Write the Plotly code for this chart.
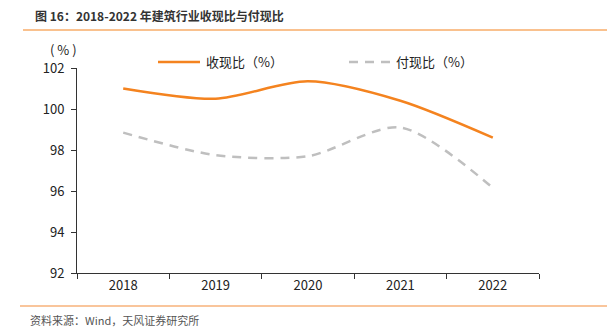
import plotly.graph_objects as go

years = ["2018", "2019", "2020", "2021", "2022"]
shouxian = [101.0, 100.5, 101.35, 100.4, 98.6]
fuxian = [98.85, 97.75, 97.7, 99.1, 96.15]
yticks = [92, 94, 96, 98, 100, 102]
names = ["收现比（%）", "付现比（%）"]

FONT = "Noto Sans CJK SC, Noto Sans, sans-serif"
ORANGE = "#F4831F"
GRAY = "#BFBFBF"
GDASH = "9px,7px"

PW, PH = 462, 205
def px(x):
    return (x - 77) / PW
def py(y):
    return (273 - y) / PH

fig = go.Figure()
fig.add_trace(go.Scatter(x=years, y=shouxian, mode="lines", name=names[0],
                         line=dict(color=ORANGE, width=2.5, shape="spline", smoothing=0.8)))
fig.add_trace(go.Scatter(x=years, y=fuxian, mode="lines", name=names[1],
                         line=dict(color=GRAY, width=2.5, shape="spline", smoothing=0.8, dash=GDASH)))

shapes = [
    dict(type="line", xref="paper", yref="paper", x0=px(23), x1=px(607),
         y0=py(30), y1=py(30), line=dict(color=ORANGE, width=1)),
    dict(type="line", xref="paper", yref="paper", x0=px(20), x1=px(607),
         y0=py(306), y1=py(306), line=dict(color="#F7B27A", width=1.5)),
    # legend keys
    dict(type="line", xref="paper", yref="paper", x0=px(158), x1=px(200),
         y0=py(62), y1=py(62), line=dict(color=ORANGE, width=2.5)),
    dict(type="line", xref="paper", yref="paper", x0=px(349), x1=px(391),
         y0=py(62), y1=py(62), line=dict(color=GRAY, width=2.5, dash=GDASH)),
]

fig.update_layout(
    width=607, height=336,
    margin=dict(l=77, r=68, t=68, b=63),
    plot_bgcolor="white", paper_bgcolor="white",
    font=dict(family=FONT, size=13, color="#222"),
    showlegend=False,
    xaxis=dict(type="category", range=[-0.5, 4.5], showline=True, linecolor="#333", linewidth=1,
               ticks="outside", tickson="boundaries", ticklen=5, tickcolor="#333",
               showgrid=False, tickfont=dict(size=13)),
    yaxis=dict(range=[92, 102], tickvals=yticks, showline=True, linecolor="#333", linewidth=1,
               ticks="outside", ticklen=5, tickcolor="#333", showgrid=False, zeroline=False,
               tickfont=dict(size=13), ticklabelstandoff=4),
    shapes=shapes,
    annotations=[
        dict(text="<b>图 16：2018-2022 年建筑行业收现比与付现比</b>", xref="paper", yref="paper",
             x=px(33), y=py(15), xanchor="left", yanchor="middle", showarrow=False,
             font=dict(size=12, color="#333")),
        dict(text="( % )", xref="paper", yref="paper", x=px(79), y=py(50),
             xanchor="right", yanchor="middle", showarrow=False, font=dict(size=13)),
        dict(text=names[0], xref="paper", yref="paper", x=px(204), y=py(62),
             xanchor="left", yanchor="middle", showarrow=False, font=dict(size=13)),
        dict(text=names[1], xref="paper", yref="paper", x=px(394), y=py(62),
             xanchor="left", yanchor="middle", showarrow=False, font=dict(size=13)),
        dict(text="资料来源：Wind，天风证券研究所", xref="paper", yref="paper",
             x=px(28), y=py(320), xanchor="left", yanchor="middle", showarrow=False,
             font=dict(size=11, color="#555")),
    ],
)

fig.write_html("out.html")
